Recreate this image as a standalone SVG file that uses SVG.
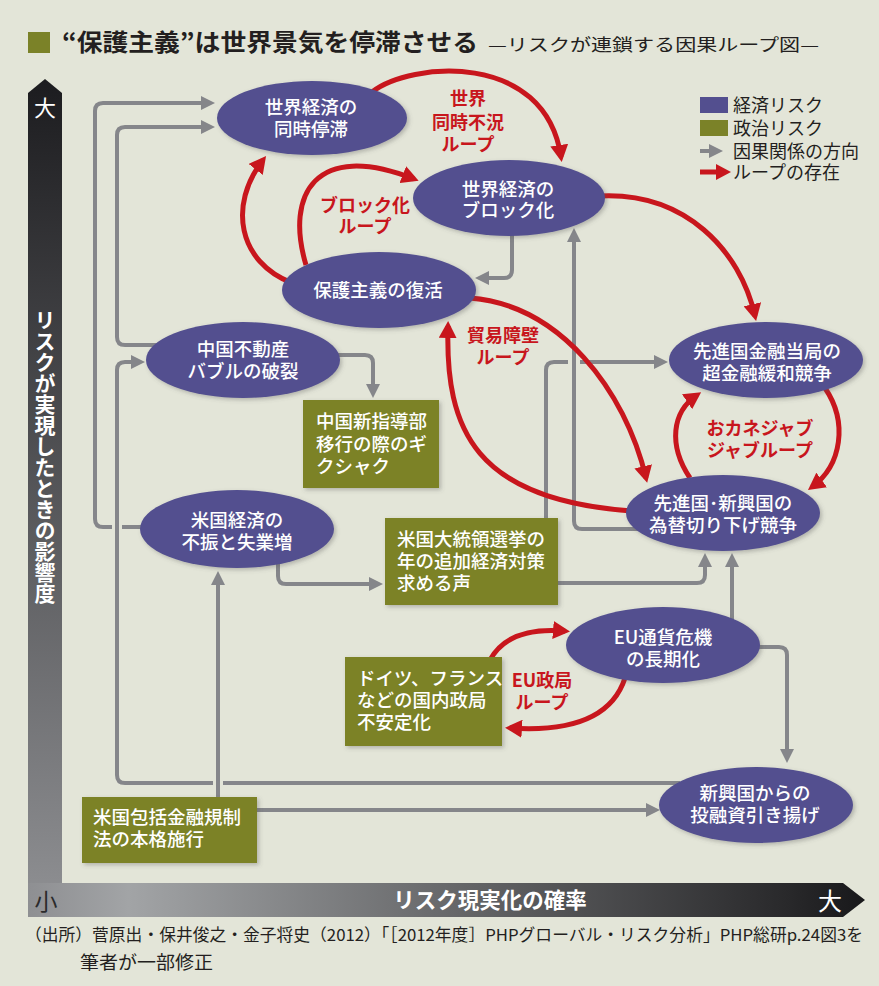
<svg xmlns="http://www.w3.org/2000/svg" width="879" height="986" viewBox="0 0 879 986">
<defs>
<style>
text{font-family:"Noto Sans CJK JP","Noto Sans",sans-serif;}
.n{fill:#534f8f;filter:url(#sh);}
.b{fill:#7b8228;filter:url(#sh);}
.nt{fill:#fff;font-size:18.5px;font-weight:500;text-anchor:middle;}
.bt{fill:#fff;font-size:18.5px;font-weight:500;}
.rl{fill:#c8161d;font-size:18px;font-weight:700;text-anchor:middle;}
.lg{fill:#231f20;font-size:18px;}
.g{fill:none;stroke:#85868a;stroke-width:4;stroke-linejoin:round;marker-end:url(#ag);}
.g0{fill:none;stroke:#85868a;stroke-width:4;stroke-linejoin:round;}
.r{fill:none;stroke:#c8161d;stroke-width:5;marker-end:url(#ar);}
</style>
<marker id="ag" markerUnits="userSpaceOnUse" markerWidth="14" markerHeight="14" refX="10" refY="7" orient="auto"><path d="M0,0 L14,7 L0,14 z" fill="#85868a"/></marker>
<marker id="ar" markerUnits="userSpaceOnUse" markerWidth="18" markerHeight="18" refX="12" refY="9" orient="auto"><path d="M0,0 L17,9 L0,18 z" fill="#c8161d"/></marker>
<filter id="sh" x="-10%" y="-10%" width="125%" height="130%"><feDropShadow dx="2" dy="2" stdDeviation="2" flood-color="#555" flood-opacity="0.35"/></filter>
<linearGradient id="gv" x1="0" y1="0" x2="0" y2="1"><stop offset="0" stop-color="#1c1c1f"/><stop offset="1" stop-color="#909194"/></linearGradient>
<linearGradient id="gh" x1="0" y1="0" x2="1" y2="0"><stop offset="0" stop-color="#8e8f92"/><stop offset="0.12" stop-color="#a2a4a6"/><stop offset="0.9" stop-color="#2a2a2c"/><stop offset="1" stop-color="#18181a"/></linearGradient>
</defs>
<rect width="879" height="986" fill="#e3e5d8"/>

<g id="title">
<rect x="28" y="32" width="22" height="21" fill="#7b8228"/>
<text x="62" y="51" font-size="24" font-weight="700" fill="#231f20" textLength="416" lengthAdjust="spacingAndGlyphs">“保護主義”は世界景気を停滞させる</text>
<text x="488" y="51" font-size="17" fill="#231f20" textLength="331" lengthAdjust="spacingAndGlyphs">—リスクが連鎖する因果ループ図—</text>
</g>

<g id="axes">
<polygon points="28,917 28,93 45,79 62,93 62,917" fill="url(#gv)"/>
<polygon points="28,883 843,883 865,900 843,917 28,917" fill="url(#gh)"/>
<text x="45" y="116" font-size="22" fill="#fff" text-anchor="middle">大</text>
<text x="45" y="457" font-size="21" font-weight="700" fill="#fff" text-anchor="middle" style="writing-mode:vertical-rl">リスクが実現したときの影響度</text>
<text x="46" y="910" font-size="23" fill="#2b2b2b" text-anchor="middle">小</text>
<text x="490" y="908" font-size="21.5" font-weight="700" fill="#fff" text-anchor="middle">リスク現実化の確率</text>
<text x="830" y="910" font-size="24" fill="#fff" text-anchor="middle">大</text>
</g>

<g id="legend">
<rect x="700" y="97" width="28" height="16" fill="#534f8f"/>
<rect x="700" y="120" width="28" height="16" fill="#7b8228"/>
<path class="g" d="M700,151 H719"/>
<path d="M700,172 H717" fill="none" stroke="#c8161d" stroke-width="5"/>
<path d="M716,164 L731,172 L716,180 z" fill="#c8161d"/>
<text class="lg" x="733" y="112">経済リスク<tspan x="733" dy="23">政治リスク</tspan><tspan x="733" dy="23">因果関係の方向</tspan><tspan x="733" dy="21">ループの存在</tspan></text>
</g>

<g id="connectors">
<path class="g0" d="M150,527 H122"/>
<path class="g" d="M112,527 H103 Q95,527 95,519 V111 Q95,103 103,103 H211"/>
<path class="g" d="M160,345 H125 Q117,345 117,337 V135 Q117,127 125,127 H211"/>
<path class="g0" d="M680,783 H223"/>
<path class="g" d="M213,783 H125 Q117,783 117,775 V370 Q117,362 125,362 H141"/>
<path class="g" d="M218,797 V575"/>
<path class="g" d="M257,810 H656"/>
<path class="g" d="M278,560 V576 Q278,584 286,584 H379"/>
<path class="g" d="M330,355 H365 Q373,355 373,363 V394"/>
<path class="g" d="M512,230 V270 Q512,278 504,278 H479"/>
<path class="g" d="M640,529 H582 Q574,529 574,521 V232"/>
<path class="g0" d="M546,518 V370 Q546,362 554,362 H568"/>
<path class="g" d="M580,362 H664"/>
<path class="g" d="M558,583 H697 Q705,583 705,575 V557"/>
<path class="g" d="M732,622 V557"/>
<path class="g" d="M755,647 H779 Q787,647 787,655 V759"/>
<path class="r" d="M372,92 C410,62 545,50 561,157"/>
<path class="r" d="M292,283 C238,262 228,205 263,160"/>
<path class="r" d="M306,265 C285,195 315,140 414,179"/>
<path class="r" d="M600,196 C685,192 740,250 755,316"/>
<path class="r" d="M470,298 C560,305 625,390 646,478"/>
<path class="r" d="M632,511 C475,500 445,430 448,326"/>
<path class="r" d="M690,478 C668,445 672,412 697,395"/>
<path class="r" d="M825,388 C848,422 842,465 812,487"/>
<path class="r" d="M490,660 C503,636 530,628 565,631"/>
<path class="r" d="M625,678 C612,718 570,732 510,728"/>
</g>

<g id="loop-labels">
<text class="rl" x="468" y="105">世界<tspan x="468" dy="24">同時不況</tspan><tspan x="468" dy="22">ループ</tspan></text>
<text class="rl" x="365" y="212">ブロック化<tspan x="365" dy="21">ループ</tspan></text>
<text class="rl" x="503" y="342">貿易障壁<tspan x="503" dy="22">ループ</tspan></text>
<text class="rl" x="760" y="435">おカネジャブ<tspan x="760" dy="22">ジャブループ</tspan></text>
<text class="rl" x="542" y="687">EU政局<tspan x="542" dy="22">ループ</tspan></text>
</g>

<g id="n-doji-teitai">
<ellipse class="n" cx="312" cy="118" rx="95" ry="37"/>
<text class="nt" x="311" y="114">世界経済の<tspan x="311" dy="22">同時停滞</tspan></text>
</g>
<g id="n-block">
<ellipse class="n" cx="509" cy="198" rx="96" ry="38"/>
<text class="nt" x="508" y="196">世界経済の<tspan x="508" dy="21">ブロック化</tspan></text>
</g>
<g id="n-hogo">
<ellipse class="n" cx="379" cy="290" rx="97" ry="38"/>
<text class="nt" x="378" y="297">保護主義の復活</text>
</g>
<g id="n-china-bubble">
<ellipse class="n" cx="243" cy="360" rx="97" ry="38"/>
<text class="nt" x="243" y="356">中国不動産<tspan x="243" dy="22">バブルの破裂</tspan></text>
</g>
<g id="n-china-leader">
<rect class="b" x="303" y="400" width="136" height="88"/>
<text class="bt" x="316" y="428">中国新指導部<tspan x="316" dy="23">移行の際のギ</tspan><tspan x="316" dy="22">クシャク</tspan></text>
</g>
<g id="n-us-econ">
<ellipse class="n" cx="237" cy="529" rx="97" ry="39"/>
<text class="nt" x="237" y="527">米国経済の<tspan x="237" dy="22">不振と失業増</tspan></text>
</g>
<g id="n-us-election">
<rect class="b" x="385" y="518" width="173" height="87"/>
<text class="bt" x="397" y="546">米国大統領選挙の<tspan x="397" dy="22">年の追加経済対策</tspan><tspan x="397" dy="22">求める声</tspan></text>
</g>
<g id="n-easing">
<ellipse class="n" cx="766" cy="360" rx="97" ry="38"/>
<text class="nt" x="767" y="358">先進国金融当局の<tspan x="767" dy="22">超金融緩和競争</tspan></text>
</g>
<g id="n-currency">
<ellipse class="n" cx="723" cy="513" rx="97" ry="38"/>
<text class="nt" x="723" y="510">先進国･新興国の<tspan x="723" dy="22">為替切り下げ競争</tspan></text>
</g>
<g id="n-eu">
<ellipse class="n" cx="663" cy="645" rx="97" ry="38"/>
<text class="nt" x="663" y="644">EU通貨危機<tspan x="663" dy="22">の長期化</tspan></text>
</g>
<g id="n-de-fr">
<rect class="b" x="345" y="657" width="157" height="89"/>
<text class="bt" x="357" y="685">ドイツ、フランス<tspan x="357" dy="22">などの国内政局</tspan><tspan x="357" dy="22">不安定化</tspan></text>
</g>
<g id="n-emerging">
<ellipse class="n" cx="756" cy="805" rx="97" ry="38"/>
<text class="nt" x="755" y="800">新興国からの<tspan x="755" dy="22">投融資引き揚げ</tspan></text>
</g>
<g id="n-dodd-frank">
<rect class="b" x="82" y="797" width="175" height="66"/>
<text class="bt" x="93" y="824">米国包括金融規制<tspan x="93" dy="22">法の本格施行</tspan></text>
</g>

<g id="source">
<text x="25" y="941" font-size="16.5" fill="#231f20" textLength="838" lengthAdjust="spacingAndGlyphs">（出所）菅原出・保井俊之・金子将史（2012）「［2012年度］PHPグローバル・リスク分析」PHP総研p.24図3を</text>
<text x="80" y="969" font-size="18" fill="#231f20" textLength="133" lengthAdjust="spacingAndGlyphs">筆者が一部修正</text>
</g>
</svg>
